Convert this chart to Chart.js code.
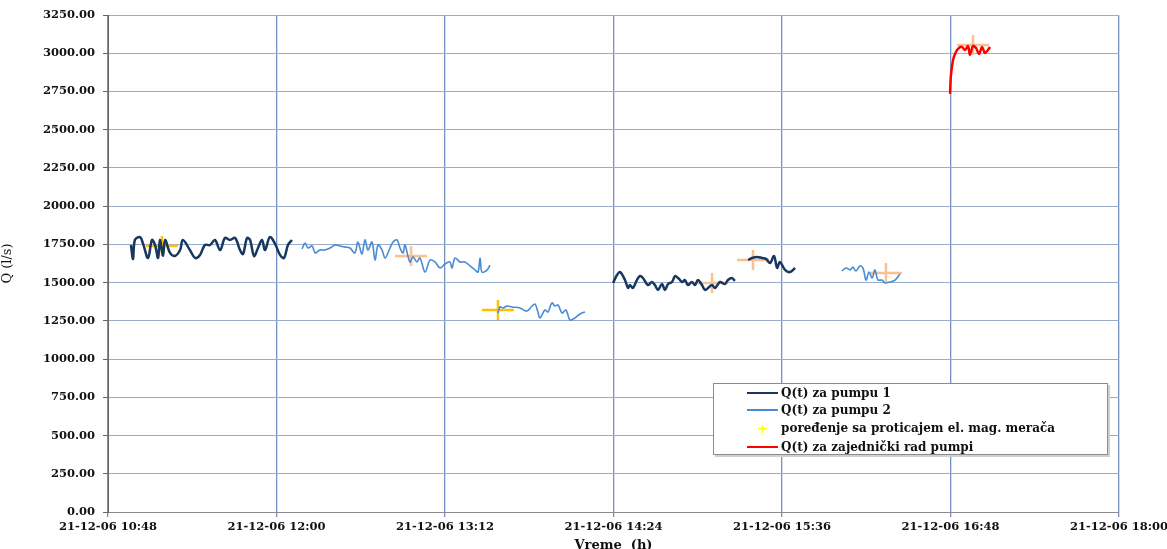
<!DOCTYPE html>
<html>
<head>
<meta charset="utf-8">
<script src="https://cdn.jsdelivr.net/npm/chart.js@4.4.1/dist/chart.umd.min.js"></script>
<style>
  body { margin: 0; background: #fff; }
  #wrap { position: relative; width: 1167px; height: 549px; }
  #legenda {
    position: absolute; left: 713px; top: 383px; width: 393px; height: 70px;
    border: 1px solid #8c8c8c; box-shadow: 2px 2px 0 #d0d0d0; background: #fff;
    font: bold 12px "DejaVu Serif", serif; color: #111;
  }
  .red { position: absolute; left: 0; height: 16px; display: flex; align-items: center; }
  .uzorak { width: 31px; margin-left: 33px; margin-right: 3px; }
</style>
</head>
<body>
<div id="wrap">
  <canvas id="grafik" width="1167" height="549"></canvas>
  <div id="legenda"></div>
</div>
<script>
// vreme u minutima od ponoci, protok u l/s
const pumpa1Vreme = [657.8, 658.7, 659.5, 661.7, 663.0, 665.1, 666.8, 668.1, 669.4, 670.2, 671.5, 672.4, 674.5, 676.6, 678.8, 680.0, 683.0, 685.2, 687.3, 689.4, 691.6, 693.7, 695.9, 698.0, 700.1, 702.3, 704.4, 705.7, 707.4, 708.7, 710.4, 712.1, 713.8, 715.1, 717.2, 719.4, 721.5, 723.2, 724.9, 726.6,
  null,
  863.8, 865.5, 866.8, 868.9, 870.2, 871.0, 872.3, 874.0, 875.3, 876.6, 878.7, 880.4, 881.7, 883.0, 884.7, 886.0, 887.3, 889.0, 890.3, 891.6, 893.3, 894.5, 895.8, 897.5, 898.8, 900.1, 901.8, 903.1, 904.4, 906.1, 907.4, 909.5, 911.6, 912.9, 914.6, 915.9,
  null,
  921.5, 923.2, 925.3, 927.5, 929.2, 930.9, 932.6, 933.9, 935.1, 937.3, 939.4, 941.6];
const pumpa1Q = [1746, 1655, 1779, 1798, 1753, 1661, 1779, 1746, 1661, 1779, 1674, 1779, 1694, 1674, 1713, 1779, 1713, 1661, 1681, 1746, 1746, 1779, 1713, 1792, 1779, 1792, 1713, 1687, 1792, 1779, 1674, 1726, 1779, 1713, 1798, 1753, 1681, 1661, 1746, 1779,
  null,
  1498, 1550, 1569, 1517, 1465, 1484, 1465, 1517, 1543, 1530, 1484, 1504, 1484, 1452, 1491, 1452, 1491, 1504, 1543, 1530, 1504, 1517, 1484, 1504, 1484, 1517, 1484, 1452, 1465, 1484, 1465, 1504, 1491, 1517, 1530, 1511,
  null,
  1648, 1661, 1668, 1661, 1655, 1628, 1674, 1596, 1635, 1583, 1569, 1596];

const pumpa2Vreme = [730.9, 732.2, 733.5, 735.2, 736.5, 738.6, 740.7, 742.9, 745.0, 747.1, 749.3, 751.4, 753.5, 754.8, 756.5, 757.8, 759.1, 760.8, 762.1, 763.4, 765.1, 766.4, 768.5, 769.8, 771.5, 772.8, 774.1, 774.9, 777.0, 778.3, 780.0, 781.3, 783.5, 785.6, 787.7, 789.9, 792.0, 794.1, 795.0, 796.3, 798.4, 800.5, 802.7, 804.8, 806.1, 807.0, 807.8, 810.0, 811.2,
  null,
  814.6, 815.5, 816.8, 818.5, 820.6, 824.0, 827.0, 829.2, 830.5, 831.7, 832.6, 834.7, 836.0, 837.7, 839.0, 840.3, 842.0, 843.7, 845.4, 847.5, 849.7, 851.8,
  null,
  961.6, 963.4, 965.1, 966.3, 967.6, 969.3, 970.6, 971.9, 973.2, 974.5, 975.7, 977.0, 978.7, 980.0, 982.1, 984.3, 986.4];
const pumpa2Q = [1720, 1759, 1726, 1740, 1694, 1713, 1713, 1726, 1746, 1740, 1733, 1726, 1694, 1766, 1687, 1779, 1713, 1766, 1648, 1746, 1713, 1661, 1726, 1766, 1779, 1726, 1694, 1746, 1635, 1668, 1635, 1661, 1569, 1648, 1635, 1596, 1622, 1635, 1596, 1661, 1635, 1635, 1609, 1583, 1569, 1661, 1569, 1583, 1615,
  null,
  1301, 1341, 1334, 1347, 1341, 1334, 1314, 1347, 1360, 1308, 1269, 1321, 1308, 1367, 1347, 1354, 1301, 1321, 1256, 1269, 1295, 1308,
  null,
  1576, 1596, 1583, 1602, 1576, 1609, 1596, 1517, 1569, 1530, 1583, 1517, 1517, 1498, 1504, 1517, 1556];

const zajednoVreme = [1007.8, 1008.2, 1009.1, 1010.3, 1011.6, 1012.9, 1014.2, 1015.5, 1016.3, 1017.6, 1018.9, 1020.2, 1021.5, 1022.7, 1024.0, 1024.9];
const zajednoQ = [2734, 2858, 2956, 3008, 3034, 3041, 3021, 3047, 2989, 3047, 3034, 2995, 3041, 3002, 3021, 3041];

const meracVreme = [671.1, 777.5, 814.6, 906.1, 923.6, 980.4, 1017.6];
const meracQ = [1740, 1674, 1321, 1498, 1648, 1563, 3054];
const meracBoja = ["#ffc000", "#fac090", "#ffc000", "#fac090", "#fac090", "#fac090", "#fac090"];

const xOd = 648, xDo = 1080, xKorak = 72;
const yOd = 0, yDo = 3250, yKorak = 250;

const nazivi = ["Q(t) za pumpu 1", "Q(t) za pumpu 2", "poređenje sa proticajem el. mag. merača", "Q(t) za zajednički rad pumpi"];
const boje = ["#17375e", "#4a8bd6", "#ffff00", "#ff0000"];

function tacke(vr, q) {
  return vr.map((t, i) => (t === null ? { x: NaN, y: null } : { x: t, y: q[i] }));
}

function krst(boja) {
  const c = document.createElement("canvas");
  c.width = 32; c.height = 20;
  const g = c.getContext("2d");
  g.strokeStyle = boja;
  g.lineWidth = 2.5;
  g.beginPath();
  g.moveTo(0, 10); g.lineTo(32, 10);
  g.moveTo(16, 0); g.lineTo(16, 20);
  g.stroke();
  return c;
}

function vremeTekst(m) {
  const h = Math.floor(m / 60), mm = Math.round(m % 60);
  return "21-12-06 " + h + ":" + String(mm).padStart(2, "0");
}

const fontOsa = { family: "DejaVu Serif", size: 11.5, weight: "bold" };

new Chart(document.getElementById("grafik"), {
  type: "line",
  data: {
    datasets: [
      {
        label: nazivi[0], data: tacke(pumpa1Vreme, pumpa1Q),
        borderColor: boje[0], borderWidth: 2.5, pointRadius: 0, tension: 0.35, spanGaps: false,
      },
      {
        label: nazivi[1], data: tacke(pumpa2Vreme, pumpa2Q),
        borderColor: boje[1], borderWidth: 1.6, pointRadius: 0, tension: 0.35, spanGaps: false,
      },
      {
        label: nazivi[3], data: tacke(zajednoVreme, zajednoQ),
        borderColor: boje[3], borderWidth: 2.5, pointRadius: 0, tension: 0.35,
      },
      {
        label: nazivi[2], data: tacke(meracVreme, meracQ),
        showLine: false, pointStyle: meracBoja.map(krst), pointRadius: 10,
      },
    ],
  },
  options: {
    responsive: false,
    animation: false,
    layout: { padding: { top: 15, right: 48, left: 0, bottom: 0 } },
    plugins: { legend: { display: false }, tooltip: { enabled: false } },
    scales: {
      x: {
        type: "linear", min: xOd, max: xDo,
        afterFit: (s) => { s.height = 37; s.paddingRight = 40; s.paddingLeft = 40; },
        afterBuildTicks: (s) => {
          s.ticks = [];
          for (let v = xOd; v <= xDo; v += xKorak) s.ticks.push({ value: v });
        },
        ticks: { callback: vremeTekst, font: fontOsa, color: "#111", maxRotation: 0, autoSkip: false, padding: 3 },
        grid: { color: "#7391c0", lineWidth: 1.3, tickLength: 5 },
        border: { color: "#8a8a8a" },
        title: { display: true, text: "Vreme  (h)", font: { family: "DejaVu Serif", size: 13, weight: "bold" }, color: "#111", padding: { top: 0, bottom: -4 } },
      },
      y: {
        min: yOd, max: yDo,
        afterFit: (s) => { s.width = 108; },
        ticks: { stepSize: yKorak, callback: (v) => v.toFixed(2), font: fontOsa, color: "#111", padding: 8 },
        grid: { color: "#98acc9", lineWidth: 1, tickLength: 5, tickColor: "#666" },
        border: { color: "#666" },
        title: { display: true, text: "Q (l/s)", font: { family: "DejaVu Serif", size: 13 }, color: "#111", padding: { top: 0, bottom: 0 } },
      },
    },
  },
});

// legenda
const legenda = document.getElementById("legenda");
const redY = [1, 18, 36, 55];
nazivi.forEach((n, i) => {
  const red = document.createElement("div");
  red.className = "red";
  red.style.top = redY[i] + "px";
  const u = document.createElement("div");
  u.className = "uzorak";
  if (i === 2) {
    u.style.textAlign = "center";
    u.style.color = boje[2];
    u.style.fontSize = "13px";
    u.textContent = "+";
  } else {
    u.style.height = "2px";
    u.style.background = boje[i];
  }
  const t = document.createElement("span");
  t.textContent = n;
  red.appendChild(u);
  red.appendChild(t);
  legenda.appendChild(red);
});
</script>
</body>
</html>
